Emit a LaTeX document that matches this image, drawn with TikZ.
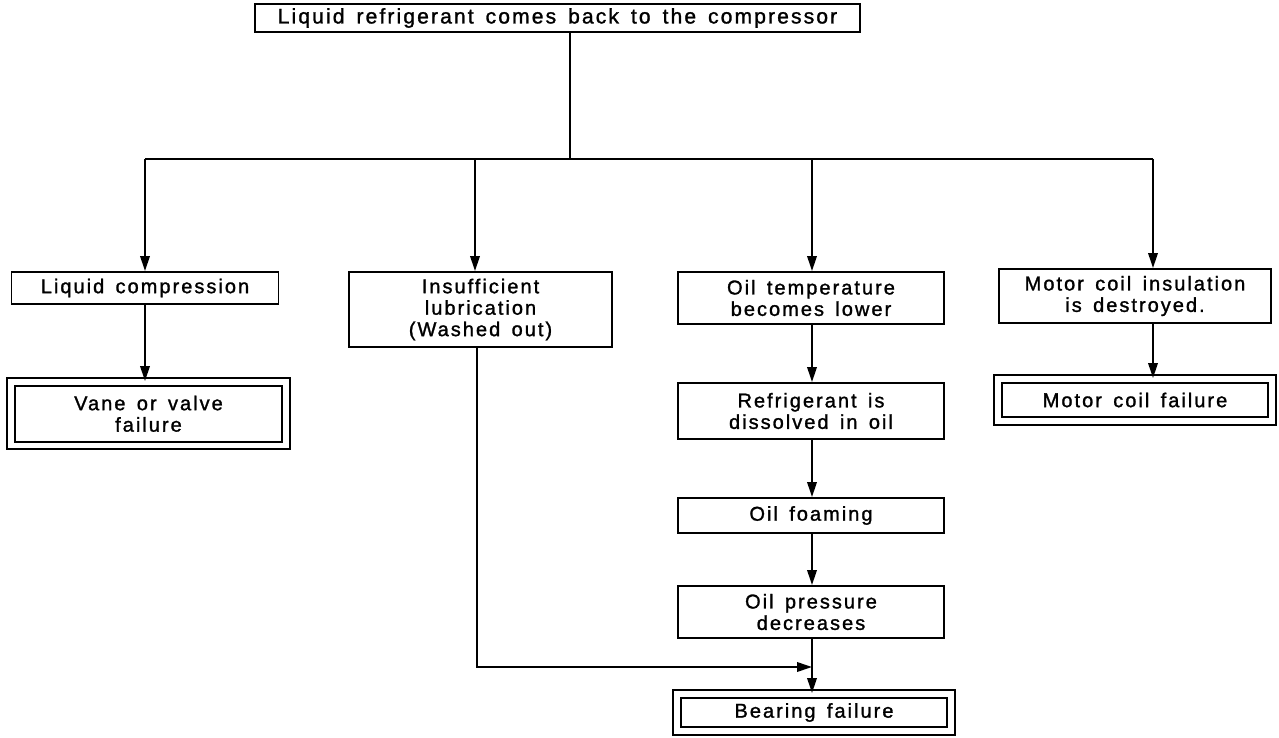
\documentclass[tikz,border=0pt]{standalone}
\usepackage{fontspec}
\setmainfont{Liberation Sans}[LetterSpace=10, WordSpace=1.5, FakeBold=1.3]
\usetikzlibrary{arrows.meta}

\begin{document}
\begin{tikzpicture}[
    box/.style={draw, line width=1.1pt, align=center, inner sep=0pt,
        font=\fontsize{11.4}{12.2}\selectfont},
    failbox/.style={box, double, double distance=0.11cm},
    arr/.style={line width=1.1pt, -{Triangle[length=3mm,width=1.9mm]}},
    link/.style={line width=1.1pt}
]
    % Page frame
    \useasboundingbox (0,0) rectangle (25.58,-14.76);

    % Cause at the top
    \node[box, minimum width=12.1cm, minimum height=0.56cm,
        font=\fontsize{12}{12}\selectfont] (top) at (11.15,-0.36)
        {Liquid refrigerant comes back to the compressor};

    % First row of effects
    \node[box, minimum width=5.34cm, minimum height=0.64cm] (liq) at (2.9,-5.76)
        {Liquid compression};
    \node[box, minimum width=5.26cm, minimum height=1.5cm] (insuf) at (9.61,-6.19)
        {Insufficient\\lubrication\\(Washed out)};
    \node[box, minimum width=5.32cm, minimum height=1.04cm] (oiltemp) at (16.22,-5.96)
        {Oil temperature\\becomes lower};
    \node[box, minimum width=5.44cm, minimum height=1.08cm] (coilins) at (22.7,-5.92)
        {Motor coil insulation\\is destroyed.};

    % Oil chain
    \node[box, minimum width=5.32cm, minimum height=1.12cm] (dissolve) at (16.22,-8.22)
        {Refrigerant is\\dissolved in oil};
    \node[box, minimum width=5.32cm, minimum height=0.7cm] (foam) at (16.22,-10.31)
        {Oil foaming};
    \node[box, minimum width=5.32cm, minimum height=1.04cm] (press) at (16.22,-12.24)
        {Oil pressure\\decreases};

    % Failures (double frame)
    \node[failbox, minimum width=5.5cm, minimum height=1.27cm] (vane) at (2.97,-8.275)
        {Vane or valve\\failure};
    \node[failbox, minimum width=5.48cm, minimum height=0.74cm] (bearing) at (16.28,-14.25)
        {Bearing failure};
    \node[failbox, minimum width=5.48cm, minimum height=0.84cm] (coilfail) at (22.7,-8.0)
        {Motor coil failure};

    % Distribution line
    \coordinate (stem) at (11.4,-3.18);
    \coordinate (b1) at (2.9,-3.18);
    \coordinate (b2) at (9.5,-3.18);
    \coordinate (b3) at (16.24,-3.18);
    \coordinate (b4) at (23.06,-3.18);
    \draw[link] (stem |- top.south) -- (stem);
    \draw[link] (b1) -- (b4);

    % Drops into the first row
    \draw[arr] (b1) -- (b1 |- liq.north);
    \draw[arr] (b2) -- (b2 |- insuf.north);
    \draw[arr] (b3) -- (b3 |- oiltemp.north);
    \draw[arr] (b4) -- (b4 |- coilins.north);

    % Downward arrows
    \draw[arr] (liq.south -| b1) -- (vane.north -| b1);
    \draw[arr] (coilins.south -| b4) -- (coilfail.north -| b4);
    \draw[arr] (oiltemp.south -| b3) -- (dissolve.north -| b3);
    \draw[arr] (dissolve.south -| b3) -- (foam.north -| b3);
    \draw[arr] (foam.south -| b3) -- (press.north -| b3);
    \draw[arr] (press.south -| b3) -- (bearing.north -| b3);

    % Lubrication path joining the bearing line
    \coordinate (join) at (16.24,-13.34);
    \draw[arr] (insuf.south -| 9.54,0) |- (join);
\end{tikzpicture}
\end{document}
